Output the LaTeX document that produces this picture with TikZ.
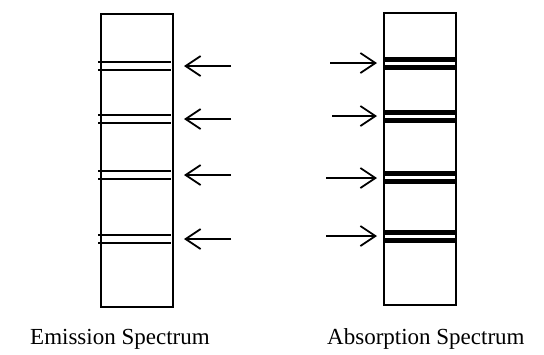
\documentclass[tikz,border=0pt]{standalone}
\usepackage{fontspec}
\setmainfont{Liberation Serif}
\usetikzlibrary{arrows.meta}
\begin{document}
\begin{tikzpicture}[x=1pt,y=-1pt,
  frame/.style={draw=black,line width=1.6pt},
  eline/.style={draw=black,line width=1.3pt},
  aband/.style={draw=black,line width=5pt},
  ray/.style={draw=black,line width=1.8pt,-{Straight Barb[length=15pt,width=20pt,line width=1.8pt]}},
  lbl/.style={font=\fontsize{23}{26}\selectfont,anchor=base west,inner sep=0pt}]
\useasboundingbox (0,0) rectangle (544,354);
% emission
\node[frame,minimum width=72pt,minimum height=293pt,inner sep=0pt] (em) at (137,160.5) {};
\foreach \a/\b/\r [count=\i] in {62/70/66, 115/123/119, 171/179/175, 235/243/239}{
  \coordinate (eL\i a) at (98,\a); \coordinate (eR\i a) at (171,\a);
  \coordinate (eL\i b) at (98,\b); \coordinate (eR\i b) at (171,\b);
  \draw[eline] (eL\i a) -- (eR\i a);
  \draw[eline] (eL\i b) -- (eR\i b);
  \coordinate (es\i) at (231,\r); \coordinate (et\i) at (184,\r);
  \draw[ray] (es\i) -- (et\i);
}
% absorption
\node[frame,minimum width=72pt,minimum height=292pt,inner sep=0pt] (ab) at (420,159) {};
\foreach \a/\b/\r/\s [count=\i] in {59/67/63/330, 112/120/116/332, 173/181/178/326, 232/240/236/326}{
  \coordinate (aL\i a) at (385,\a); \coordinate (aR\i a) at (457,\a);
  \coordinate (aL\i b) at (385,\b); \coordinate (aR\i b) at (457,\b);
  \draw[aband] (aL\i a) -- (aR\i a);
  \draw[aband] (aL\i b) -- (aR\i b);
  \coordinate (as\i) at (\s,\r); \coordinate (at\i) at (377,\r);
  \draw[ray] (as\i) -- (at\i);
}
\node[lbl] (emt) at (30,344) {Emission Spectrum};
\node[lbl] (abt) at (327,344) {Absorption Spectrum};
\end{tikzpicture}
\end{document}
